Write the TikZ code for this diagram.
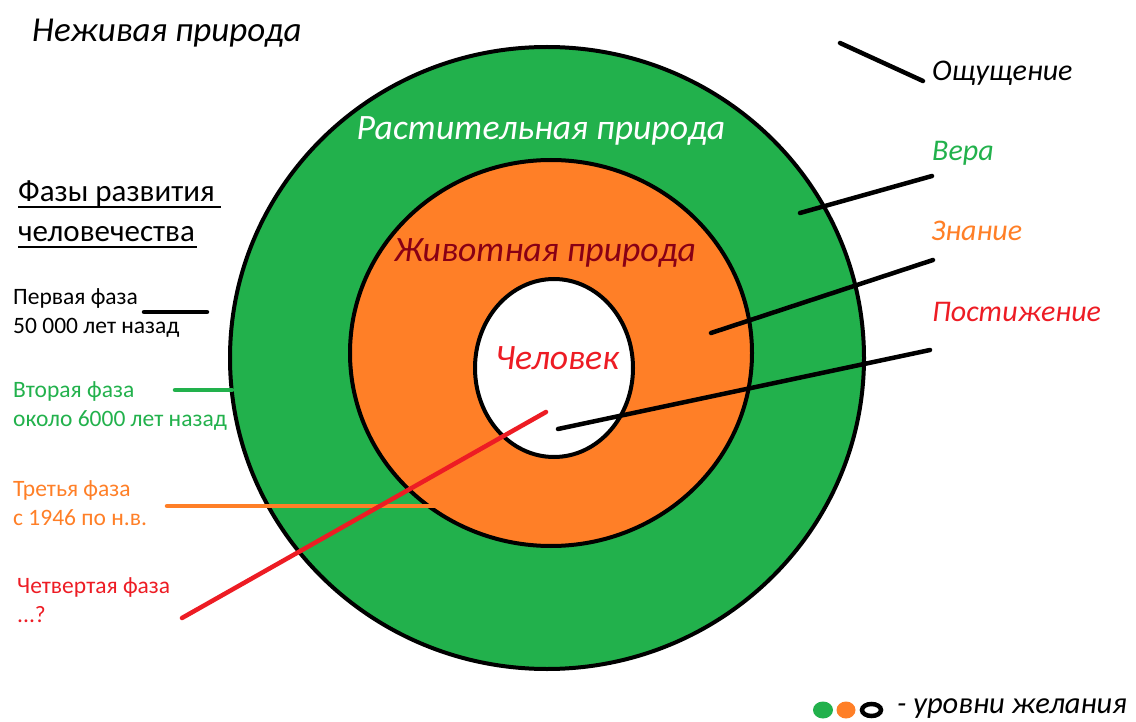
\documentclass[tikz,border=0pt]{standalone}
\usepackage{fontspec}
\setmainfont{Carlito}
\usetikzlibrary{shapes.geometric}
\definecolor{pgreen}{HTML}{22B14C}
\definecolor{porange}{HTML}{FF7F27}
\definecolor{pred}{HTML}{ED1C24}
\definecolor{pdred}{HTML}{880015}
\tikzset{
  ring/.style={ellipse, draw=black, line width=4pt, inner sep=0pt},
  lbl/.style={anchor=base west, inner sep=0pt, font=\fontsize{30}{36}\selectfont\itshape},
  big/.style={anchor=base, inner sep=0pt, font=\fontsize{35.7}{40}\selectfont\itshape},
  phase/.style={anchor=base west, inner sep=0pt, align=left, font=\fontsize{23.5}{29}\selectfont},
  head/.style={anchor=base west, inner sep=0pt, font=\fontsize{31}{36}\selectfont},
  conn/.style={line width=4.5pt, line cap=round},
}
\begin{document}
\begin{tikzpicture}[x=1pt,y=-1pt]
\useasboundingbox (0,0) rectangle (1136,722);
% rings
\node[ring, fill=pgreen, minimum width=634pt, minimum height=622pt] (outer) at (547,358) {};
\node[ring, fill=porange, minimum width=402pt, minimum height=386pt] (mid) at (551,353) {};
\node[ring, fill=white, minimum width=158pt, minimum height=178pt] (inner) at (554,368) {};
% ring labels
\node[big, text=white] (plant) at (541,140) {Растительная природа};
\node[big, text=pdred] (animal) at (545,262) {Животная природа};
\node[big, text=pred] (human) at (557,369) {Человек};
% top-left
\node[lbl, font=\fontsize{35}{40}\selectfont\itshape] (nezh) at (32,42) {Неживая природа};
% right labels
\node[lbl] (oshch) at (932,81) {Ощущение};
\node[lbl, text=pgreen] (vera) at (932,161) {Вера};
\node[lbl, text=porange] (znan) at (931,241) {Знание};
\node[lbl, text=pred] (post) at (932,321) {Постижение};
% phases heading
\node[head] (faz1) at (18,202) {Фазы развития};
\node[head] (faz2) at (18,242) {человечества};
\draw[line width=2pt] (18,207) -- (221,207);
\draw[line width=2pt] (18,247) -- (197,247);
% phases (anchored on the baseline of the last line)
\node[phase] (ph1) at (13,334) {Первая фаза\\50 000 лет назад};
\node[phase, text=pgreen] (ph2) at (13,426) {Вторая фаза\\около 6000 лет назад};
\node[phase, text=porange] (ph3) at (13,525) {Третья фаза\\с 1946 по н.в.};
\node[phase, text=pred] (ph4) at (17,622) {Четвертая фаза\\...?};
% connector end points
\coordinate (c1a) at (144,312); \coordinate (c1b) at (207,312);
\coordinate (c2a) at (175,390); \coordinate (c2b) at (232,390);
\coordinate (c3a) at (167,506); \coordinate (c3b) at (437,506);
\coordinate (c4a) at (182,618); \coordinate (c4b) at (546,412);
\coordinate (roA) at (840,43);  \coordinate (roB) at (923,81);
\coordinate (rvA) at (800,213); \coordinate (rvB) at (932,176);
\coordinate (rzA) at (711,333); \coordinate (rzB) at (933,260);
\coordinate (rpA) at (558,429); \coordinate (rpB) at (930,350);
% connectors
\draw[conn, black] (c1a) -- (c1b);
\draw[conn, pgreen] (c2a) -- (c2b);
\draw[conn, porange] (c3a) -- (c3b);
\draw[conn, pred] (c4a) -- (c4b);
\draw[conn, black] (roA) -- (roB);
\draw[conn, black] (rvA) -- (rvB);
\draw[conn, black] (rzA) -- (rzB);
\draw[conn, black] (rpA) -- (rpB);
% legend
\node[ellipse, fill=pgreen, minimum width=20pt, minimum height=17pt, inner sep=0pt] (lg) at (823,710) {};
\node[ellipse, fill=porange, minimum width=19pt, minimum height=17pt, inner sep=0pt] (lo) at (846,710) {};
\node[ellipse, draw=black, fill=white, line width=4.5pt, minimum width=19pt, minimum height=12pt, inner sep=0pt] (lw) at (871.5,710) {};
\node[lbl, font=\fontsize{30.5}{34}\selectfont\itshape] (legtxt) at (897,713) {- уровни желания};
\end{tikzpicture}
\end{document}
